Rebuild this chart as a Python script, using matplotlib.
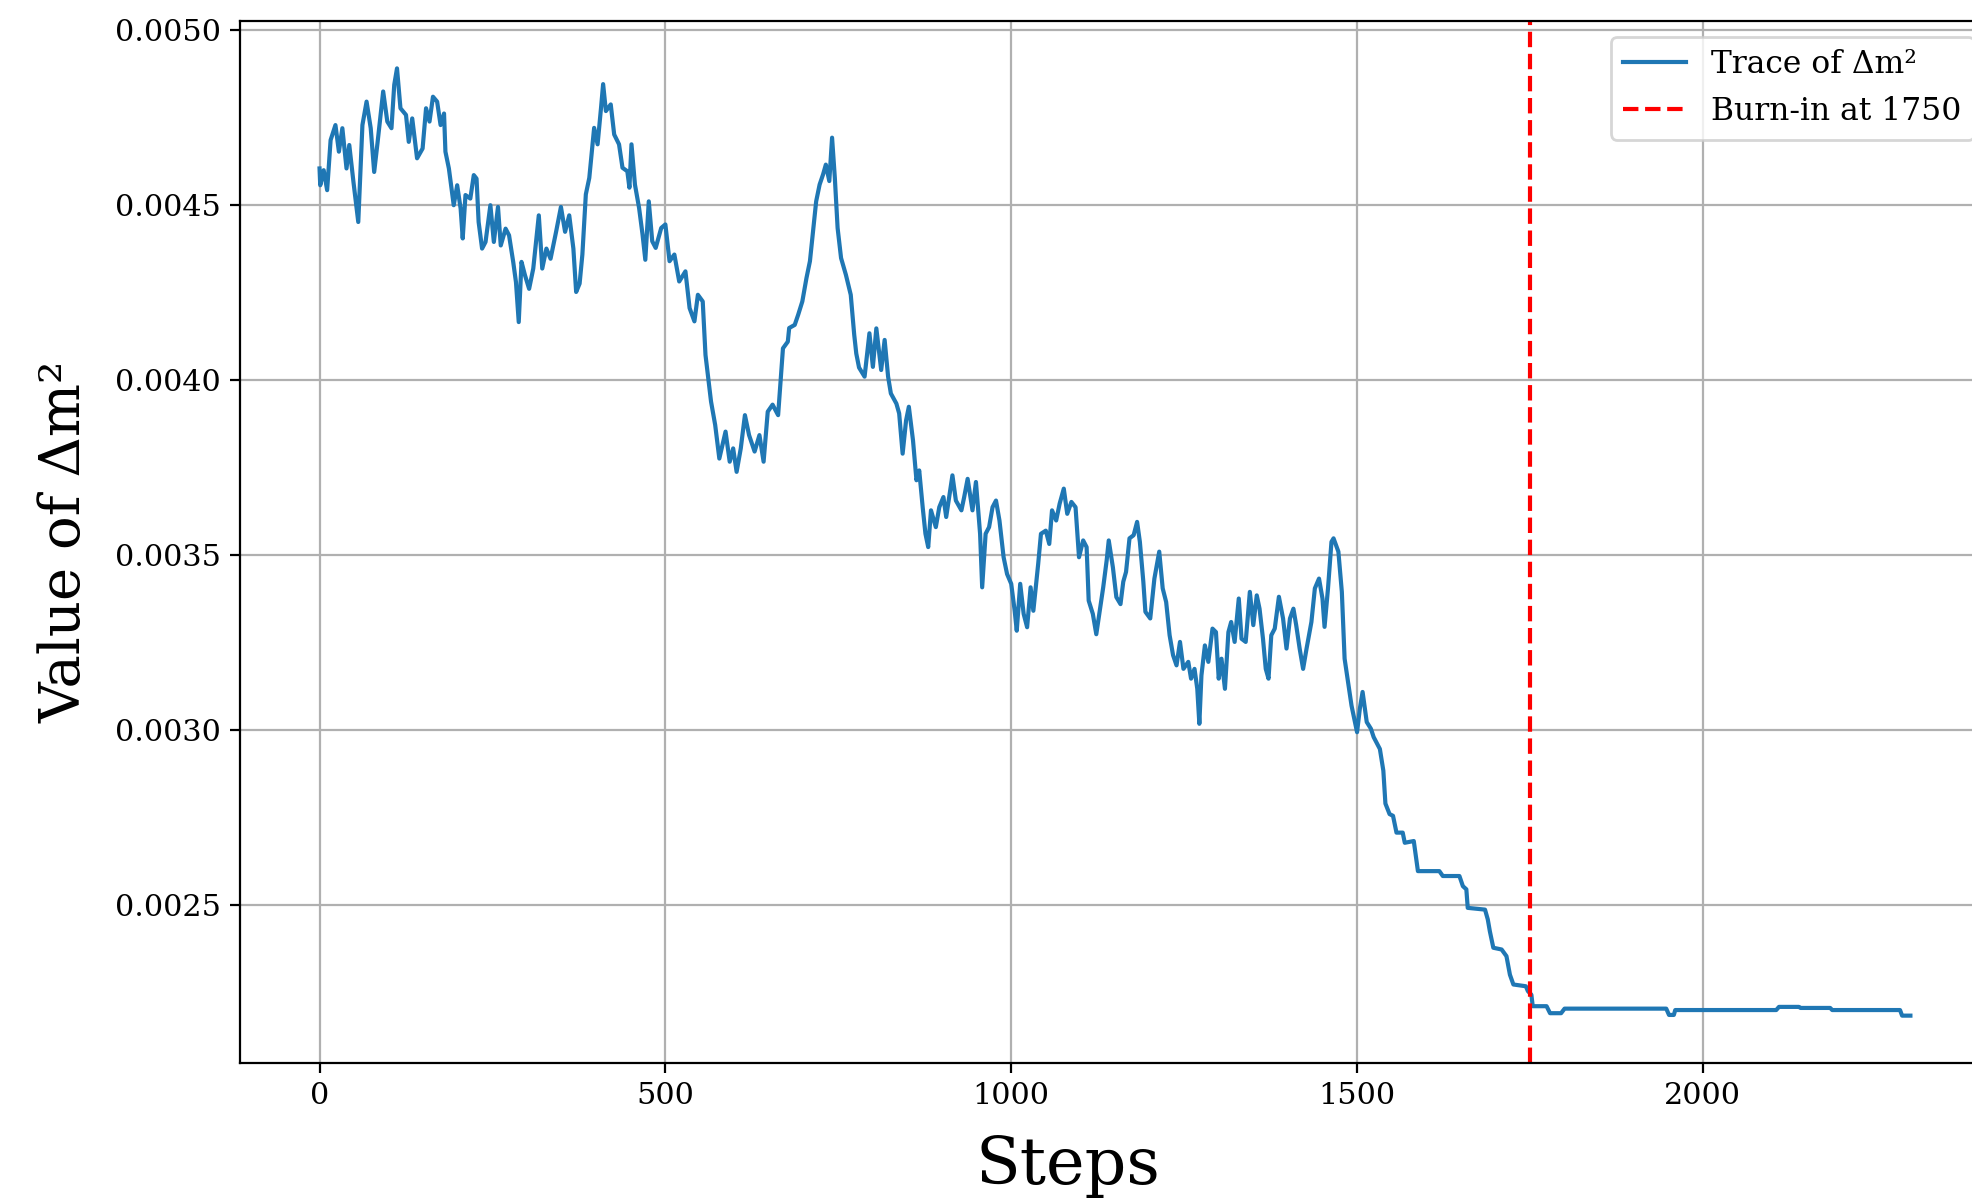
"""MCMC trace of the mass splitting with the burn-in cut marked"""

import numpy as np
import matplotlib
matplotlib.use('Agg')
import matplotlib.pyplot as plt

steps = [
    0, 1, 6, 11, 16, 23, 28, 33, 39, 43, 49, 56, 62, 68, 74, 79, 84, 92, 98, 104,
    108, 112, 117, 125, 129, 134, 141, 149, 154, 159, 164, 170, 175, 180, 182, 187,
    194, 199, 204, 207, 211, 218, 223, 227, 230, 235, 240, 247, 252, 258, 262, 269,
    274, 280, 284, 288, 292, 297, 303, 309, 317, 322, 328, 334, 342, 349, 355, 361,
    367, 371, 376, 380, 385, 390, 397, 402, 407, 410, 414, 421, 426, 433, 438, 445,
    448, 451, 456, 462, 467, 471, 476, 481, 486, 494, 500, 506, 513, 520, 529, 535,
    542, 547, 554, 558, 566, 572, 578, 587, 593, 598, 603, 609, 615, 621, 629, 636,
    642, 648, 655, 663, 670, 677, 679, 687, 692, 698, 704, 709, 712, 718, 723, 728,
    732, 737, 741, 745, 749, 754, 761, 768, 773, 776, 780, 788, 795, 800, 805, 812,
    817, 822, 826, 834, 838, 843, 848, 852, 858, 863, 867, 872, 876, 880, 884, 891,
    896, 902, 906, 911, 915, 920, 928, 932, 937, 944, 949, 955, 958, 963, 968, 973,
    978, 983, 989, 994, 1000, 1005, 1008, 1013, 1018, 1023, 1028, 1032, 1039, 1043,
    1050, 1055, 1059, 1065, 1070, 1076, 1081, 1087, 1093, 1098, 1104, 1109, 1112,
    1118, 1123, 1128, 1133, 1138, 1141, 1147, 1152, 1158, 1162, 1166, 1171, 1177,
    1182, 1186, 1191, 1194, 1201, 1207, 1214, 1219, 1224, 1229, 1234, 1239, 1244,
    1249, 1256, 1260, 1265, 1269, 1272, 1275, 1280, 1285, 1291, 1296, 1300, 1304,
    1309, 1314, 1318, 1323, 1329, 1333, 1339, 1345, 1350, 1355, 1359, 1364, 1368,
    1372, 1376, 1381, 1387, 1393, 1398, 1403, 1408, 1412, 1417, 1422, 1427, 1434,
    1439, 1445, 1450, 1453, 1458, 1463, 1466, 1473, 1478, 1482, 1487, 1492, 1497,
    1500, 1504, 1508, 1514, 1520, 1524, 1528, 1533, 1538, 1541, 1547, 1552, 1557,
    1566, 1569, 1582, 1586, 1588, 1619, 1624, 1648, 1653, 1658, 1660, 1685, 1689,
    1692, 1697, 1709, 1716, 1721, 1726, 1744, 1747, 1752, 1754, 1774, 1779, 1795,
    1800, 1947, 1951, 1958, 1960, 2106, 2110, 2139, 2141, 2184, 2187, 2285, 2288,
    2300,
]
dm2 = [
    0.004605, 0.004557, 0.004600, 0.004543, 0.004686, 0.004729, 0.004653, 0.004720,
    0.004605, 0.004672, 0.004567, 0.004452, 0.004729, 0.004796, 0.004720, 0.004595,
    0.004681, 0.004825, 0.004739, 0.004720, 0.004844, 0.004891, 0.004777, 0.004758,
    0.004681, 0.004748, 0.004634, 0.004662, 0.004777, 0.004739, 0.004810, 0.004796,
    0.004729, 0.004762, 0.004653, 0.004605, 0.004500, 0.004557, 0.004490, 0.004405,
    0.004529, 0.004519, 0.004586, 0.004576, 0.004452, 0.004376, 0.004395, 0.004500,
    0.004395, 0.004495, 0.004385, 0.004433, 0.004414, 0.004338, 0.004280, 0.004166,
    0.004338, 0.004300, 0.004261, 0.004319, 0.004471, 0.004319, 0.004376, 0.004347,
    0.004424, 0.004495, 0.004424, 0.004471, 0.004376, 0.004252, 0.004276, 0.004359,
    0.004531, 0.004578, 0.004721, 0.004674, 0.004779, 0.004846, 0.004769, 0.004788,
    0.004702, 0.004674, 0.004607, 0.004597, 0.004550, 0.004674, 0.004559, 0.004492,
    0.004416, 0.004344, 0.004511, 0.004397, 0.004378, 0.004435, 0.004445, 0.004340,
    0.004359, 0.004282, 0.004311, 0.004206, 0.004168, 0.004244, 0.004225, 0.004072,
    0.003939, 0.003872, 0.003776, 0.003853, 0.003767, 0.003805, 0.003738, 0.003805,
    0.003900, 0.003843, 0.003796, 0.003843, 0.003767, 0.003910, 0.003930, 0.003900,
    0.004091, 0.004110, 0.004149, 0.004158, 0.004187, 0.004225, 0.004292, 0.004340,
    0.004397, 0.004511, 0.004559, 0.004588, 0.004616, 0.004569, 0.004693, 0.004578,
    0.004435, 0.004349, 0.004301, 0.004244, 0.004130, 0.004076, 0.004036, 0.004010,
    0.004134, 0.004038, 0.004148, 0.004029, 0.004115, 0.004010, 0.003962, 0.003933,
    0.003905, 0.003790, 0.003885, 0.003924, 0.003828, 0.003714, 0.003742, 0.003637,
    0.003561, 0.003523, 0.003628, 0.003580, 0.003637, 0.003666, 0.003609, 0.003675,
    0.003728, 0.003656, 0.003628, 0.003666, 0.003718, 0.003628, 0.003709, 0.003561,
    0.003408, 0.003561, 0.003580, 0.003637, 0.003656, 0.003599, 0.003494, 0.003446,
    0.003418, 0.003341, 0.003284, 0.003418, 0.003332, 0.003294, 0.003408, 0.003341,
    0.003475, 0.003561, 0.003570, 0.003532, 0.003628, 0.003599, 0.003647, 0.003690,
    0.003618, 0.003652, 0.003637, 0.003494, 0.003542, 0.003523, 0.003370, 0.003332,
    0.003274, 0.003341, 0.003408, 0.003485, 0.003542, 0.003465, 0.003380, 0.003360,
    0.003424, 0.003452, 0.003548, 0.003557, 0.003595, 0.003538, 0.003424, 0.003338,
    0.003319, 0.003433, 0.003510, 0.003405, 0.003366, 0.003271, 0.003214, 0.003185,
    0.003252, 0.003175, 0.003195, 0.003147, 0.003175, 0.003118, 0.003018, 0.003156,
    0.003242, 0.003195, 0.003290, 0.003280, 0.003147, 0.003204, 0.003118, 0.003280,
    0.003309, 0.003252, 0.003376, 0.003261, 0.003252, 0.003395, 0.003300, 0.003385,
    0.003347, 0.003261, 0.003175, 0.003147, 0.003271, 0.003290, 0.003381, 0.003319,
    0.003233, 0.003319, 0.003347, 0.003300, 0.003233, 0.003175, 0.003233, 0.003309,
    0.003405, 0.003433, 0.003376, 0.003295, 0.003405, 0.003538, 0.003548, 0.003510,
    0.003395, 0.003204, 0.003137, 0.003070, 0.003023, 0.002994, 0.003061, 0.003109,
    0.003023, 0.003004, 0.002980, 0.002965, 0.002946, 0.002884, 0.002790, 0.002760,
    0.002755, 0.002707, 0.002707, 0.002678, 0.002683, 0.002626, 0.002597, 0.002597,
    0.002583, 0.002583, 0.002554, 0.002545, 0.002492, 0.002487, 0.002459, 0.002425,
    0.002378, 0.002373, 0.002354, 0.002301, 0.002273, 0.002268, 0.002254, 0.002244,
    0.002211, 0.002211, 0.002191, 0.002191, 0.002204, 0.002204, 0.002186, 0.002186,
    0.002200, 0.002200, 0.002209, 0.002209, 0.002206, 0.002206, 0.002200, 0.002200,
    0.002184, 0.002184,
]
burn_in = 1750

plt.rcParams['font.family'] = 'serif'
plt.rcParams['font.serif'] = ['DejaVu Serif']

fig = plt.figure(figsize=(9.86, 6.005), dpi=200)
# the plotting area runs a little past the right edge of the canvas
ax = fig.add_axes([0.1217, 0.1149, 0.8874, 0.8676])

ax.plot(steps, dm2, color='#1f77b4', lw=1.5, label='Trace of Δm²')
ax.axvline(burn_in, color='red', linestyle='--', lw=1.5,
           label='Burn-in at {}'.format(burn_in))

ax.set_xticks([0, 500, 1000, 1500, 2000])
ax.set_yticks([0.0025, 0.0030, 0.0035, 0.0040, 0.0045, 0.0050])
ax.yaxis.set_major_formatter(matplotlib.ticker.FormatStrFormatter('%.4f'))
ax.tick_params(labelsize=10.9)

ax.set_xlabel('Steps', fontsize=23.5)
ax.set_ylabel('Value of Δm²', fontsize=20.2, labelpad=8)
ax.xaxis.set_label_coords(0.473, -0.068)
ax.grid(True)
ax.legend(loc='upper right', fontsize=11.3)

fig.savefig('out.png', dpi=200)
